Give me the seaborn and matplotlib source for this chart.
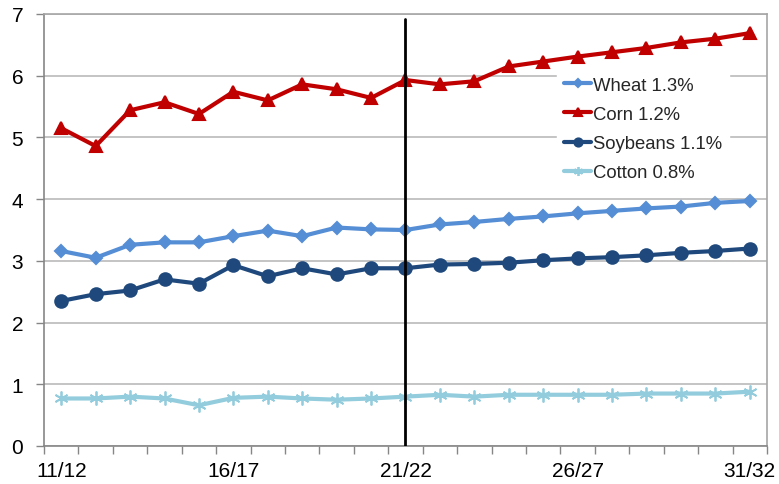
import matplotlib
matplotlib.use("Agg")
import matplotlib.pyplot as plt
import seaborn as sns
import pandas as pd
from matplotlib.ticker import FixedLocator, NullFormatter

years = ["11/12", "12/13", "13/14", "14/15", "15/16", "16/17", "17/18", "18/19", "19/20", "20/21",
         "21/22", "22/23", "23/24", "24/25", "25/26", "26/27", "27/28", "28/29", "29/30", "30/31", "31/32"]
wheat = [3.16, 3.05, 3.26, 3.30, 3.30, 3.40, 3.49, 3.40, 3.54, 3.51,
         3.50, 3.59, 3.63, 3.68, 3.72, 3.77, 3.81, 3.85, 3.88, 3.94, 3.97]
corn = [5.15, 4.86, 5.44, 5.57, 5.38, 5.74, 5.60, 5.86, 5.78, 5.64,
        5.93, 5.86, 5.91, 6.15, 6.23, 6.31, 6.38, 6.45, 6.54, 6.60, 6.69]
soybeans = [2.35, 2.46, 2.52, 2.70, 2.63, 2.93, 2.75, 2.88, 2.78, 2.88,
            2.88, 2.94, 2.95, 2.97, 3.01, 3.04, 3.06, 3.09, 3.13, 3.16, 3.20]
cotton = [0.77, 0.77, 0.80, 0.77, 0.66, 0.78, 0.80, 0.77, 0.75, 0.77,
          0.80, 0.83, 0.80, 0.83, 0.83, 0.83, 0.83, 0.85, 0.85, 0.85, 0.88]
series_names = ["Wheat 1.3%", "Corn 1.2%", "Soybeans 1.1%", "Cotton 0.8%"]
tick_labels = ["11/12", "16/17", "21/22", "26/27", "31/32"]
divider_year = "21/22"

colors = ["#558ED5", "#C00000", "#1F497D", "#93CDDD"]
markers = ["D", "^", "o", (6, 2, 0)]
msizes = [6, 8, 9, 10]

sns.set_theme(style="white")
plt.rcParams["font.family"] = ["Liberation Sans", "DejaVu Sans"]

rows = []
for name, vals in zip(series_names, [wheat, corn, soybeans, cotton]):
    for i, v in enumerate(vals):
        rows.append({"x": i, "year": years[i], "value": v, "series": name})
df = pd.DataFrame(rows)

fig = plt.figure(figsize=(7.79, 4.85), dpi=100)
ax = fig.add_axes([44 / 779, 1 - 447 / 485, (767 - 44) / 779, (447 - 15) / 485])

for name, c, m, ms in zip(series_names, colors, markers, msizes):
    sub = df[df["series"] == name]
    sns.lineplot(data=sub, x="x", y="value", ax=ax, color=c, marker=m, markersize=ms,
                 markeredgecolor=c, markeredgewidth=1.5 if m != (6, 2, 0) else 1.3,
                 linewidth=3, label=name, zorder=3)

ax.set_xlim(-0.5, len(years) - 0.5)
ax.set_ylim(0, 7)
ax.set_yticks(range(0, 8))
ax.yaxis.grid(True, color="#BFBFBF", linewidth=1.3, zorder=0)
ax.xaxis.grid(False)

pos = [years.index(t) for t in tick_labels]
ax.set_xticks(pos)
ax.set_xticklabels(tick_labels)
ax.xaxis.set_minor_locator(FixedLocator([i - 0.5 for i in range(len(years) + 1)]))
ax.xaxis.set_minor_formatter(NullFormatter())
ax.tick_params(axis="x", which="major", length=0, labelsize=15, pad=11, colors="black")
ax.tick_params(axis="x", which="minor", length=6, width=1, color="#868686", bottom=True)
ax.tick_params(axis="y", which="major", length=6, width=1, color="#868686", left=True,
               labelsize=15, pad=9, labelcolor="black")
ax.set_xlabel("")
ax.set_ylabel("")

for s in ax.spines.values():
    s.set_color("#A6A6A6")
    s.set_linewidth(1.2)
ax.spines["left"].set_color("#868686")
ax.spines["bottom"].set_color("#868686")

ax.axvline(years.index(divider_year), ymin=0, ymax=0.988, color="black", linewidth=2, zorder=4)

handles, labels = ax.get_legend_handles_labels()
leg = ax.legend(handles, labels, loc="upper left", bbox_to_anchor=((548 - 44) / 723, 1 - (62 - 15) / 432),
                frameon=True, fontsize=13.3, handlelength=1.5, handletextpad=0.1,
                labelspacing=0.66, borderpad=0.35, markerscale=0.65, fancybox=False)
leg.get_frame().set_facecolor("white")
leg.get_frame().set_edgecolor("white")
leg.get_frame().set_alpha(1)
leg.set_zorder(5)

fig.savefig("out.png", dpi=100)
